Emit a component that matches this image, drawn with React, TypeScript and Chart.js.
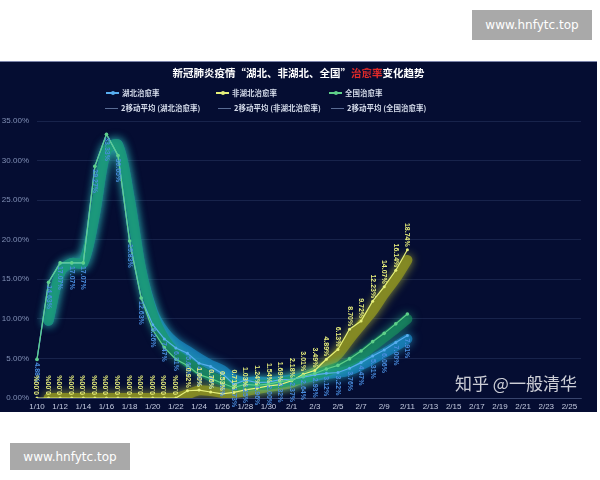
import React, { useEffect, useRef } from "react";
import { Chart, registerables } from "chart.js";

Chart.register(...registerables);

const dates = [
  "1/10", "1/11", "1/12", "1/13", "1/14", "1/15", "1/16", "1/17", "1/18", "1/19",
  "1/20", "1/21", "1/22", "1/23", "1/24", "1/25", "1/26", "1/27", "1/28", "1/29",
  "1/30", "1/31", "2/1", "2/2", "2/3", "2/4", "2/5", "2/6", "2/7", "2/8",
  "2/9", "2/10", "2/11", "2/12", "2/13", "2/14", "2/15", "2/16", "2/17", "2/18",
  "2/19", "2/20", "2/21", "2/22", "2/23", "2/24", "2/25", "2/26",
];

// 湖北治愈率 (%)
const hubei = [
  4.88, 14.63, 17.07, 17.07, 17.07, 29.27, 33.33, 30.65, 19.83, 12.63,
  9.26, 7.47, 6.31, 5.65, 4.39, 3.99, 3.09, 1.73, 2.25, 1.96,
  2.0, 2.32, 2.37, 2.64, 2.93, 3.12, 3.22, 3.76, 4.47, 5.31,
  6.06, 7.0, 7.91,
];

// 非湖北治愈率 (%)
const nonHubei = [
  0, 0, 0, 0, 0, 0, 0, 0, 0, 0,
  0, 0, 0, 0.92, 1.0, 0.76, 0.53, 0.71, 1.03, 1.24,
  1.54, 1.69, 2.18, 3.01, 3.49, 4.89, 6.13, 8.7, 9.72, 12.23,
  14.07, 16.14, 18.74,
];

// 全国治愈率 (%)
const national = [
  4.88, 14.63, 17.07, 17.07, 17.07, 29.27, 33.33, 30.65, 19.83, 12.63,
  8.59, 6.36, 4.9, 4.1, 2.95, 2.48, 1.86, 1.33, 1.72, 1.61,
  1.76, 2.06, 2.28, 2.76, 3.09, 3.67, 4.12, 4.94, 5.93, 7.12,
  8.17, 9.37, 10.62,
];

const yTicks = [0, 5, 10, 15, 20, 25, 30, 35];

// 2-period moving average, as drawn by the trendline
function movingAvg2(arr: number[]): (number | null)[] {
  return arr.map((v, i) => (i === 0 ? null : (arr[i - 1] + v) / 2));
}

const C_HUBEI = "#58aef0";
const C_NON = "#e6f07a";
const C_NAT = "#5fd08a";

const glowPlugin = {
  id: "glowPlugin",
  beforeDatasetDraw(chart: any, args: any) {
    const ds = chart.data.datasets[args.index];
    if (ds.glow) {
      const ctx = chart.ctx;
      ctx.save();
      ctx.shadowColor = ds.glow;
      ctx.shadowBlur = 10;
    }
  },
  afterDatasetDraw(chart: any, args: any) {
    const ds = chart.data.datasets[args.index];
    if (ds.glow) chart.ctx.restore();
  },
};

const labelPlugin = {
  id: "labelPlugin",
  afterDatasetsDraw(chart: any) {
    const ctx = chart.ctx;
    chart.data.datasets.forEach((ds: any, i: number) => {
      if (!ds.dl) return;
      const meta = chart.getDatasetMeta(i);
      meta.data.forEach((pt: any, j: number) => {
        const v = ds.data[j];
        if (v === null || v === undefined) return;
        const txt = v.toFixed(2) + "%";
        ctx.save();
        ctx.font = "bold 7px 'Liberation Sans', 'DejaVu Sans', sans-serif";
        ctx.fillStyle = ds.dl.color;
        ctx.textBaseline = "middle";
        if (ds.dl.pos === "below") {
          ctx.translate(pt.x, pt.y + 3);
          ctx.rotate(Math.PI / 2);
          ctx.textAlign = "left";
        } else if (v === 0) {
          ctx.translate(pt.x, pt.y - 3);
          ctx.rotate(-Math.PI / 2);
          ctx.textAlign = "left";
        } else {
          ctx.translate(pt.x, pt.y - 3);
          ctx.rotate(Math.PI / 2);
          ctx.textAlign = "right";
        }
        ctx.fillText(txt, 0, 0);
        ctx.restore();
      });
    });
  },
};

export default function App() {
  const ref = useRef<HTMLCanvasElement | null>(null);

  useEffect(() => {
    if (!ref.current) return;
    const chart = new Chart(ref.current, {
      type: "line",
      data: {
        labels: dates,
        datasets: [
          {
            label: "全国治愈率",
            data: national,
            borderColor: C_NAT,
            backgroundColor: C_NAT,
            borderWidth: 1.2,
            pointRadius: 1.8,
            pointBorderWidth: 0,
            order: 0,
          } as any,
          {
            label: "湖北治愈率",
            data: hubei,
            borderColor: C_HUBEI,
            backgroundColor: C_HUBEI,
            borderWidth: 1.2,
            pointRadius: 1.5,
            pointBorderWidth: 0,
            order: 1,
            dl: { color: "#4a8ee0", pos: "below" },
          },
          {
            label: "非湖北治愈率",
            data: nonHubei,
            borderColor: C_NON,
            backgroundColor: C_NON,
            borderWidth: 1.2,
            pointRadius: 1.5,
            pointBorderWidth: 0,
            order: 1,
            dl: { color: "#e8ef7c", pos: "above" },
          },
          {
            label: "2移动平均 (全国治愈率)",
            data: movingAvg2(national),
            borderColor: "rgba(25,150,95,0.62)",
            borderWidth: 10,
            pointRadius: 0,
            tension: 0.3,
            borderCapStyle: "round",
            glow: "rgba(50,215,160,0.85)",
            order: 3,
          },
          {
            label: "2移动平均 (湖北治愈率)",
            data: movingAvg2(hubei),
            borderColor: "rgba(25,135,195,0.72)",
            borderWidth: 10,
            pointRadius: 0,
            tension: 0.3,
            borderCapStyle: "round",
            glow: "rgba(50,195,235,0.9)",
            order: 4,
          },
          {
            label: "2移动平均 (非湖北治愈率)",
            data: movingAvg2(nonHubei),
            borderColor: "rgba(135,140,35,0.92)",
            borderWidth: 10,
            pointRadius: 0,
            tension: 0.3,
            borderCapStyle: "round",
            glow: "rgba(190,200,60,0.8)",
            order: 5,
          },
        ] as any,
      },
      options: {
        animation: false,
        responsive: false,
        maintainAspectRatio: false,
        layout: { padding: { top: 59, right: 16, left: 0, bottom: 0 } },
        plugins: {
          legend: { display: false },
          title: { display: false },
          tooltip: { enabled: false },
        },
        scales: {
          x: {
            type: "category",
            offset: false,
            grid: { display: false, drawTicks: false },
            border: { display: true, color: "rgba(120,135,175,0.35)" },
            afterFit: (s: any) => {
              s.height = 15;
            },
            ticks: {
              autoSkip: false,
              maxRotation: 0,
              minRotation: 0,
              padding: 4,
              color: "#c4cbe0",
              font: { size: 8, family: "'Liberation Sans', 'DejaVu Sans', sans-serif" },
              callback: (_v: any, i: number) => (i % 2 === 0 ? dates[i] : ""),
            },
          },
          y: {
            min: 0,
            max: 35,
            afterBuildTicks: (s: any) => {
              s.ticks = yTicks.map((v) => ({ value: v }));
            },
            afterFit: (s: any) => {
              s.width = 37;
            },
            grid: { color: "rgba(95,115,165,0.28)", lineWidth: 0.8, drawTicks: false },
            border: { display: false },
            ticks: {
              padding: 8,
              color: "#8290b6",
              font: { size: 8, family: "'Liberation Sans', 'DejaVu Sans', sans-serif" },
              callback: (v: any) => Number(v).toFixed(2) + "%",
            },
          },
        },
      } as any,
      plugins: [glowPlugin, labelPlugin],
    });
    return () => chart.destroy();
  }, []);

  const legendText: React.CSSProperties = {
    position: "absolute",
    fontSize: 7.5,
    fontWeight: 700,
    color: "#d4dbea",
    whiteSpace: "nowrap",
    fontFamily: "'Noto Sans CJK SC', sans-serif",
    lineHeight: "10px",
  };

  const icon = (x: number, y: number, color: string, marker: boolean, thin?: boolean) => (
    <div style={{ position: "absolute", left: x, top: y, width: 13, height: 0 }}>
      <div
        style={{
          position: "absolute",
          left: 0,
          top: thin ? -0.5 : -1,
          width: 13,
          height: thin ? 1 : 2,
          background: color,
        }}
      />
      {marker && (
        <div
          style={{
            position: "absolute",
            left: 4.5,
            top: -2,
            width: 4,
            height: 4,
            borderRadius: 2,
            background: color,
          }}
        />
      )}
    </div>
  );

  const wm: React.CSSProperties = {
    position: "absolute",
    background: "#a9a9a9",
    color: "#ffffff",
    fontFamily: "'DejaVu Sans', sans-serif",
    fontSize: 12,
    display: "flex",
    alignItems: "center",
    justifyContent: "center",
  };

  return (
    <div
      style={{
        position: "fixed",
        left: 0,
        top: 0,
        width: 600,
        height: 480,
        background: "#ffffff",
        overflow: "hidden",
      }}
    >
      <div style={{ ...wm, left: 472, top: 10, width: 120, height: 30 }}>www.hnfytc.top</div>
      <div style={{ ...wm, left: 10, top: 443, width: 120, height: 27 }}>www.hnfytc.top</div>

      <div
        style={{
          position: "absolute",
          left: 0,
          top: 61,
          width: 597,
          height: 351,
          background: "#050d32",
          borderTop: "1px solid #7c84aa",
          boxSizing: "border-box",
        }}
      >
        <canvas ref={ref} width={597} height={351} style={{ position: "absolute", left: 0, top: 0, width: 597, height: 351 }} />
        <div
          style={{
            position: "absolute",
            left: 0,
            width: 597,
            top: 4,
            textAlign: "center",
            color: "#ffffff",
            fontSize: 10.5,
            fontWeight: 700,
            fontFamily: "'Noto Sans CJK SC', sans-serif",
            lineHeight: "14px",
          }}
        >
          新冠肺炎疫情“湖北、非湖北、全国”<span style={{ color: "#e02a2a" }}>治愈率</span>变化趋势
        </div>

        {icon(106, 31, C_HUBEI, true)}
        <div style={{ ...legendText, left: 122, top: 26 }}>湖北治愈率</div>
        {icon(216, 31, C_NON, true)}
        <div style={{ ...legendText, left: 232, top: 26 }}>非湖北治愈率</div>
        {icon(329, 31, C_NAT, true)}
        <div style={{ ...legendText, left: 345, top: 26 }}>全国治愈率</div>

        {icon(105, 46, "#5a6c94", false, true)}
        <div style={{ ...legendText, left: 121, top: 41 }}>2移动平均 (湖北治愈率)</div>
        {icon(218, 46, "#5a6c94", false, true)}
        <div style={{ ...legendText, left: 234, top: 41 }}>2移动平均 (非湖北治愈率)</div>
        {icon(331, 46, "#5a6c94", false, true)}
        <div style={{ ...legendText, left: 347, top: 41 }}>2移动平均 (全国治愈率)</div>
      </div>

      <div
        style={{
          position: "absolute",
          left: 455,
          top: 372,
          fontSize: 17,
          color: "rgba(255,255,255,0.8)",
          fontFamily: "'Noto Sans CJK SC', sans-serif",
          whiteSpace: "nowrap",
          lineHeight: "22px",
        }}
      >
        知乎 @一般清华
      </div>
    </div>
  );
}
